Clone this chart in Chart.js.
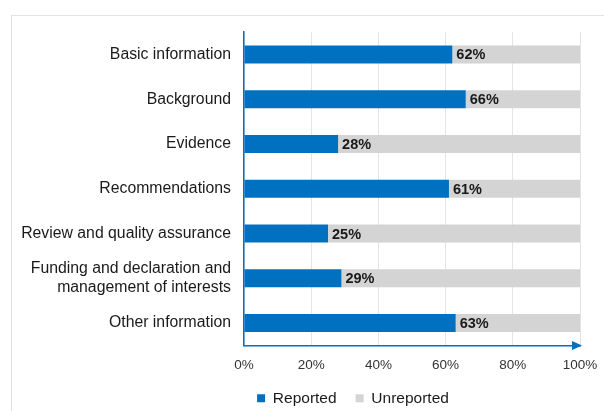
<!DOCTYPE html>
<html>
<head>
<meta charset="utf-8">
<script src="https://cdn.jsdelivr.net/npm/chart.js@4"></script>
<style>
  html, body { margin: 0; padding: 0; background: #fff; }
  #wrap { position: relative; width: 604px; height: 411px; overflow: hidden; }
  #frame { position: absolute; left: 11px; top: 15px; width: 700px; height: 500px;
    border-top: 1px solid #e2e2e2; border-left: 1px solid #e2e2e2; }
  canvas { position: absolute; left: 0; top: 0; }
</style>
</head>
<body>
<div id="wrap">
  <div id="frame"></div>
  <canvas id="chart" width="604" height="411"></canvas>
</div>
<script>
const categories = [
  'Basic information',
  'Background',
  'Evidence',
  'Recommendations',
  'Review and quality assurance',
  ['Funding and declaration and', 'management of interests'],
  'Other information'
];
const reported = [62, 66, 28, 61, 25, 29, 63];
const unreported = [38, 34, 72, 39, 75, 71, 37];
const xTicks = [0, 20, 40, 60, 80, 100];

const blue = '#0070c0';
const grey = '#d4d4d4';
const fontFamily = '"Liberation Sans", Arial, sans-serif';

// percentage labels right after the blue bar
const valueLabels = {
  id: 'valueLabels',
  afterDatasetsDraw(chart) {
    const ctx = chart.ctx;
    const meta = chart.getDatasetMeta(0);
    ctx.save();
    ctx.font = 'bold 14.5px ' + fontFamily;
    ctx.fillStyle = '#1a1a1a';
    ctx.textAlign = 'left';
    ctx.textBaseline = 'middle';
    meta.data.forEach((bar, i) => {
      ctx.fillText(reported[i] + '%', bar.x + 4, bar.y + 1);
    });
    ctx.restore();
  }
};

// arrow head at the end of the x axis
const axisArrow = {
  id: 'axisArrow',
  afterDraw(chart) {
    const ctx = chart.ctx;
    const a = chart.chartArea;
    ctx.save();
    ctx.fillStyle = blue;
    ctx.beginPath();
    ctx.moveTo(a.right + 2, a.bottom);
    ctx.lineTo(a.right - 8, a.bottom - 4.5);
    ctx.lineTo(a.right - 8, a.bottom + 4.5);
    ctx.closePath();
    ctx.fill();
    ctx.restore();
  }
};

// the legend sits right of centre in the original
const legendShift = {
  id: 'legendShift',
  afterLayout(chart) {
    chart.legend.left += 126;
  }
};

new Chart(document.getElementById('chart'), {
  type: 'bar',
  data: {
    labels: categories,
    datasets: [
      { label: 'Reported', data: reported, backgroundColor: blue },
      { label: 'Unreported', data: unreported, backgroundColor: grey }
    ]
  },
  options: {
    indexAxis: 'y',
    responsive: false,
    animation: false,
    barPercentage: 0.5,
    categoryPercentage: 0.805,
    layout: { padding: { top: 32, right: 24, left: 0, bottom: -5 } },
    scales: {
      x: {
        stacked: true,
        min: 0,
        max: 100,
        afterBuildTicks(scale) { scale.ticks = xTicks.map(v => ({ value: v })); },
        afterFit(scale) {
          scale.height = 26;
          scale.paddingLeft = 0;
          scale.paddingRight = 0;
        },
        grid: { color: '#e4e4e4', lineWidth: 1, drawTicks: false },
        border: { color: blue, width: 1.5 },
        ticks: {
          padding: 12,
          color: '#333',
          font: { size: 13.5, family: fontFamily },
          callback: v => v + '%'
        }
      },
      y: {
        stacked: true,
        afterFit(scale) { scale.width = 244; },
        grid: { display: false, drawTicks: false },
        border: { color: blue, width: 1.5 },
        ticks: {
          padding: 13,
          color: '#1a1a1a',
          font: { size: 15.8, family: fontFamily }
        }
      }
    },
    plugins: {
      legend: {
        position: 'bottom',
        labels: {
          boxWidth: 8,
          boxHeight: 8,
          padding: 19,
          color: '#1a1a1a',
          font: { size: 15.5, family: fontFamily }
        }
      },
      tooltip: { enabled: false }
    }
  },
  plugins: [valueLabels, axisArrow, legendShift]
});
</script>
</body>
</html>
